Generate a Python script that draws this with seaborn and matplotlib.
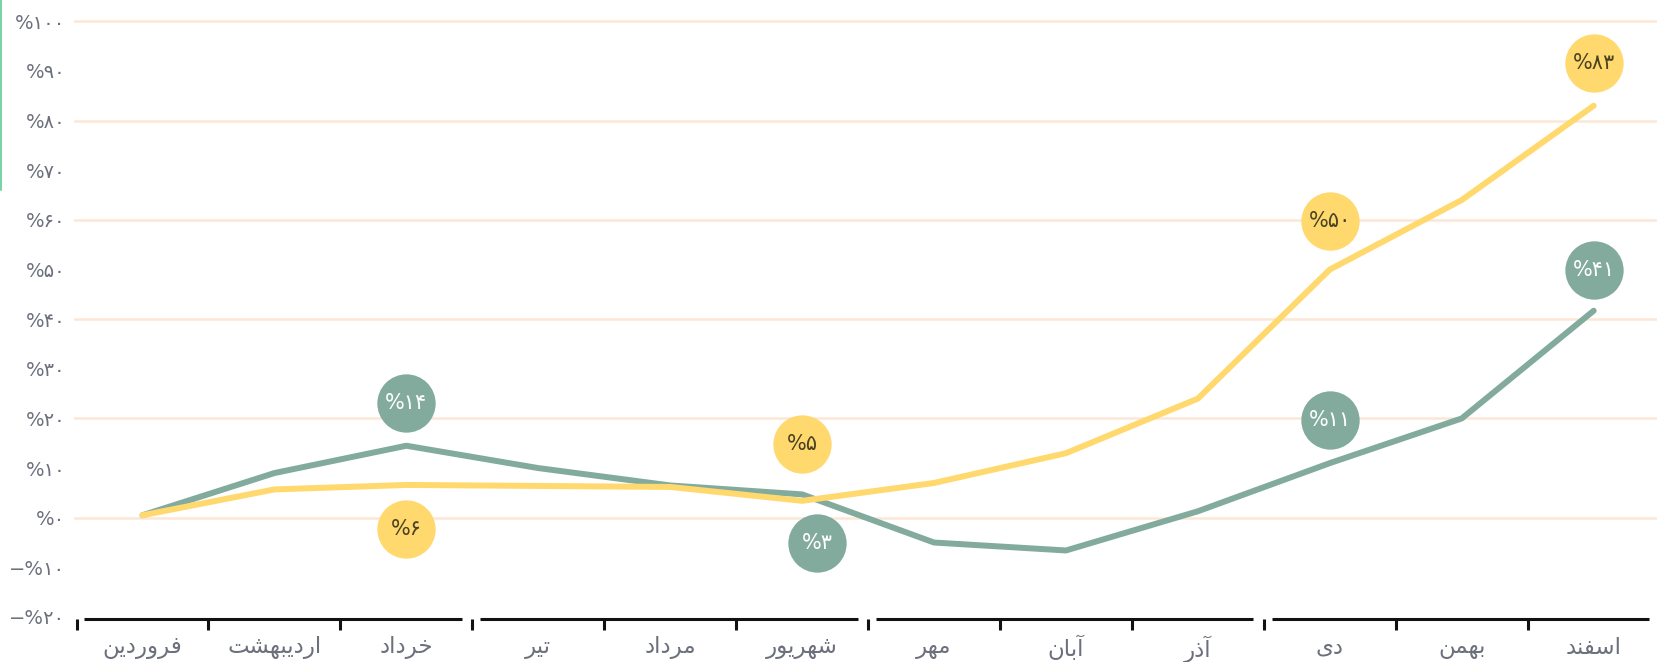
import pandas as pd
import matplotlib.pyplot as plt
import seaborn as sns
from matplotlib.lines import Line2D
from matplotlib.transforms import offset_copy

sns.set_theme(style="white")
plt.rcParams['font.family'] = ['DejaVu Sans']

# ---- data ----
months = ['فروردین', 'اردیبهشت', 'خرداد', 'تیر', 'مرداد', 'شهریور',
          'مهر', 'آبان', 'آذر', 'دی', 'بهمن', 'اسفند']
green_vals = [0.5, 9, 14.5, 10, 6.5, 4.7, -5, -6.6, 1.3, 11, 20, 41.7]
yellow_vals = [0.5, 5.7, 6.6, 6.4, 6.2, 3.4, 7, 13, 24, 50, 64, 83]

# labels: (month index, text value)
green_labels = [(2, 14), (5, 3), (9, 11), (11, 41)]
yellow_labels = [(2, 6), (5, 5), (9, 50), (11, 83)]

GREEN = '#82ab9e'
YELLOW = '#ffd86e'
GRID = '#fde6d6'
TXT = '#6b707c'

# ---- persian helpers (matplotlib does no arabic shaping) ----
FORMS = {
    'ا': ('\uFE8D', '\uFE8E', None, None),
    'آ': ('\uFE81', '\uFE82', None, None),
    'ب': ('\uFE8F', '\uFE90', '\uFE91', '\uFE92'),
    'ت': ('\uFE95', '\uFE96', '\uFE97', '\uFE98'),
    'خ': ('\uFEA5', '\uFEA6', '\uFEA7', '\uFEA8'),
    'د': ('\uFEA9', '\uFEAA', None, None),
    'ذ': ('\uFEAB', '\uFEAC', None, None),
    'ر': ('\uFEAD', '\uFEAE', None, None),
    'س': ('\uFEB1', '\uFEB2', '\uFEB3', '\uFEB4'),
    'ش': ('\uFEB5', '\uFEB6', '\uFEB7', '\uFEB8'),
    'ف': ('\uFED1', '\uFED2', '\uFED3', '\uFED4'),
    'م': ('\uFEE1', '\uFEE2', '\uFEE3', '\uFEE4'),
    'ن': ('\uFEE5', '\uFEE6', '\uFEE7', '\uFEE8'),
    'ه': ('\uFEE9', '\uFEEA', '\uFEEB', '\uFEEC'),
    'و': ('\uFEED', '\uFEEE', None, None),
    'ی': ('\uFBFC', '\uFBFD', '\uFBFE', '\uFBFF'),
}


def shape(word):
    out = []
    for i, c in enumerate(word):
        iso, fin, ini, med = FORMS[c]
        prev_join = i > 0 and FORMS[word[i - 1]][2] is not None
        next_join = ini is not None and i < len(word) - 1
        if prev_join and next_join:
            out.append(med)
        elif prev_join:
            out.append(fin)
        elif next_join:
            out.append(ini)
        else:
            out.append(iso)
    return ''.join(reversed(out))


def fa(n):
    return str(n).translate(str.maketrans('0123456789', '۰۱۲۳۴۵۶۷۸۹'))


def pct(v):
    return ('−' if v < 0 else '') + '%' + fa(abs(v))


df = pd.DataFrame({
    'i': list(range(len(months))) * 2,
    'value': green_vals + yellow_vals,
    'series': ['g'] * len(months) + ['y'] * len(months),
})

fig = plt.figure(figsize=(16.57, 6.62), dpi=100)
ax = fig.add_axes([0.0446, 0.065, 0.9554, 0.935])

for v in range(0, 101, 20):
    ax.axhline(v, color=GRID, lw=1.8, zorder=0)

sns.lineplot(data=df, x='i', y='value', hue='series', palette={'g': GREEN, 'y': YELLOW},
             linewidth=4.3, legend=False, ax=ax, sort=False,
             solid_capstyle='round', solid_joinstyle='round', zorder=2)

# badge offsets in points (dx, dy)
offsets = {('g', 2): (0, 31), ('g', 5): (11, -35), ('g', 9): (0, 31), ('g', 11): (0, 29),
           ('y', 2): (0, -32), ('y', 5): (0, 41), ('y', 9): (0, 35), ('y', 11): (0, 31)}

for key, labels, vals, col, tcol in [('g', green_labels, green_vals, GREEN, 'white'),
                                     ('y', yellow_labels, yellow_vals, YELLOW, '#4a4322')]:
    for idx, num in labels:
        dx, dy = offsets[(key, idx)]
        tr = offset_copy(ax.transData, fig=fig, x=dx, y=dy, units='points')
        ax.plot([idx], [vals[idx]], marker='o', ms=42, color=col, mec='none',
                transform=tr, zorder=4, clip_on=False)
        ax.text(idx, vals[idx], pct(num), transform=tr, ha='center', va='center',
                fontsize=15, color=tcol, zorder=5)

n = len(months)
ax.set_xlim(-0.52, n - 0.52)
ax.set_ylim(-20.4, 104.3)

ax.set_yticks(range(-20, 101, 10))
ax.set_yticklabels([pct(v) for v in range(-20, 101, 10)])
ax.set_xticks(range(n))
ax.set_xticklabels([shape(m) for m in months])
ax.set_xticks([k + 0.5 for k in range(-1, n - 1)], minor=True)
ax.tick_params(axis='y', length=0, pad=6, labelsize=14, labelcolor=TXT)
ax.tick_params(axis='x', which='major', length=0, pad=12, labelsize=16.5, labelcolor=TXT)
ax.tick_params(axis='x', which='minor', bottom=True, length=8, width=2.2,
               color='#111111', direction='out')
ax.set_xlabel('')
ax.set_ylabel('')
for s in ax.spines.values():
    s.set_visible(False)

# quarter segments of the baseline
tr = ax.get_xaxis_transform()
for q in range(0, n, 3):
    ax.plot([q - 0.44, q + 2.42], [0, 0], transform=tr, color='#111111', lw=2.2,
            clip_on=False, solid_capstyle='butt')

fig.add_artist(Line2D([0.0008, 0.0008], [1, 1 - 190 / 662], color='#7dd3a8', lw=1.5))

plt.savefig('out.png', dpi=100)
plt.close()
